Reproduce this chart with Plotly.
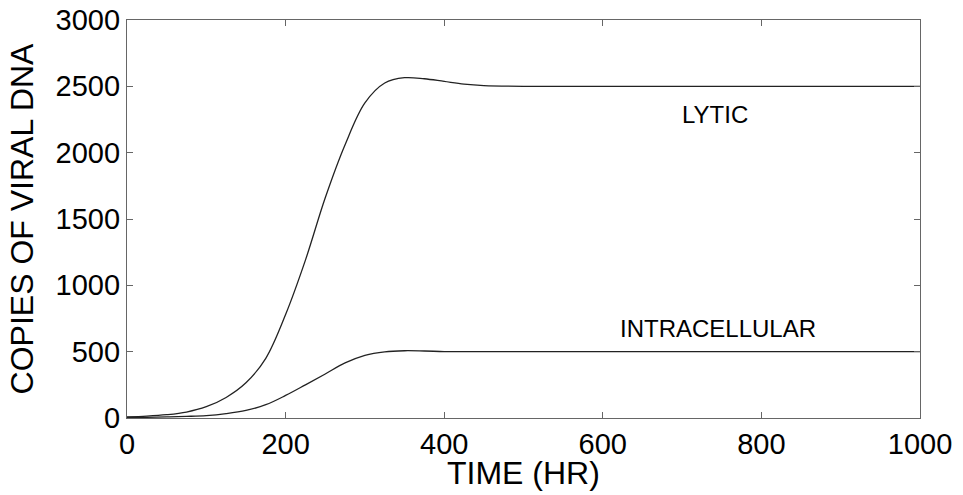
import plotly.graph_objects as go

# Data
time_pts = [0, 25, 50, 75, 100, 125, 150, 175, 200, 225, 250, 275, 300, 325, 350, 375, 400, 425, 450, 500, 600, 700, 800, 900, 1000]
lytic = [8, 14, 25, 45, 85, 155, 265, 450, 780, 1190, 1660, 2060, 2375, 2525, 2565, 2557, 2537, 2517, 2506, 2500, 2500, 2500, 2500, 2500, 2500]
intra = [4, 5, 8, 12, 18, 33, 57, 100, 170, 250, 332, 415, 472, 499, 507, 505, 501, 500, 500, 500, 500, 500, 500, 500, 500]

x_ticks = [0, 200, 400, 600, 800, 1000]
y_ticks = [0, 500, 1000, 1500, 2000, 2500, 3000]

FONT = "Liberation Sans, Arial, sans-serif"

fig = go.Figure()
fig.add_trace(go.Scatter(x=time_pts, y=lytic, mode="lines", name="LYTIC",
                         line=dict(color="#222222", width=1.3, shape="spline", smoothing=1.0)))
fig.add_trace(go.Scatter(x=time_pts, y=intra, mode="lines", name="INTRACELLULAR",
                         line=dict(color="#222222", width=1.3, shape="spline", smoothing=1.0)))

axis_common = dict(showgrid=False, zeroline=False, showline=True, linecolor="#666666", linewidth=1.2,
                   mirror="ticks", ticks="inside", ticklen=6, tickcolor="#666666", tickwidth=1,
                   automargin=False,
                   tickfont=dict(family=FONT, size=29, color="black"))

fig.update_xaxes(range=[0, 1000], tickvals=x_ticks, ticktext=[str(v) for v in x_ticks], **axis_common)
fig.update_yaxes(range=[0, 3000], tickvals=y_ticks, ticktext=[str(v) for v in y_ticks],
                 title=dict(text="COPIES OF VIRAL DNA", font=dict(family=FONT, size=32, color="black"), standoff=12),
                 **axis_common)

fig.add_annotation(xref="paper", yref="paper", x=0.5, y=0, yshift=-55, yanchor="middle",
                   text="TIME (HR)", showarrow=False, font=dict(family=FONT, size=32, color="black"))
fig.add_annotation(x=741, y=2290, text="LYTIC", showarrow=False,
                   font=dict(family=FONT, size=24, color="black"))
fig.add_annotation(x=745, y=678, text="INTRACELLULAR", showarrow=False,
                   font=dict(family=FONT, size=24, color="black"))

fig.update_layout(width=963, height=495, margin=dict(l=127, r=43, t=20, b=77),
                  plot_bgcolor="white", paper_bgcolor="white", showlegend=False)

fig.write_html("out.html", config={"displayModeBar": False},
               post_script="document.body.style.margin='0';document.body.style.overflow='hidden';")
